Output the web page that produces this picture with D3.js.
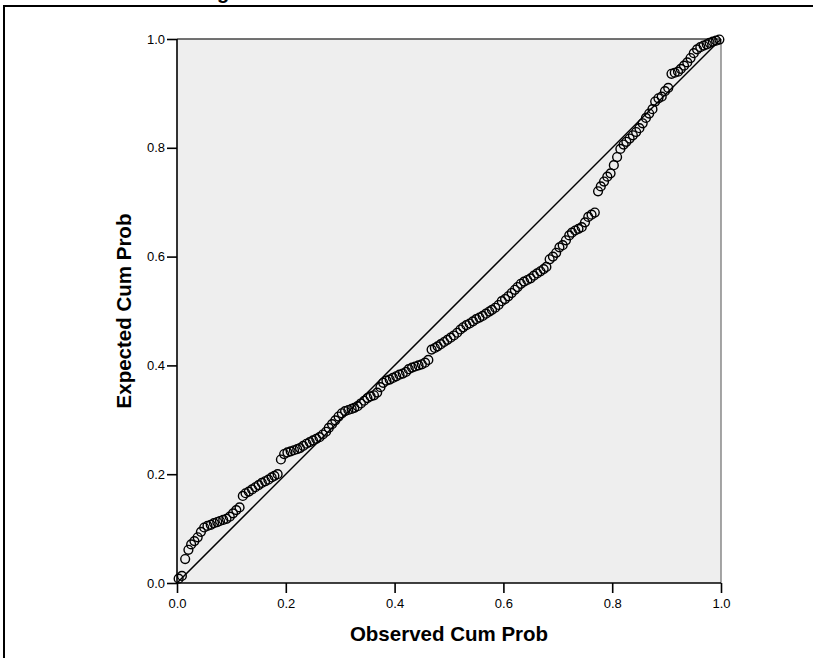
<!DOCTYPE html>
<html>
<head>
<meta charset="utf-8">
<script src="https://cdn.jsdelivr.net/npm/d3@7"></script>
<style>
  body { margin: 0; background: #fff; }
  svg { display: block; }
  text { font-family: Arial, "Liberation Sans", sans-serif; fill: #000; }
</style>
</head>
<body>
<div id="chart"></div>
<script>
// Normal P-P plot: observed vs expected cumulative probability
const observed = [
  0.003,0.009,0.015,0.021,0.026,0.032,0.038,0.044,0.050,0.056,
  0.062,0.068,0.074,0.079,0.085,0.091,0.097,0.103,0.109,0.115,
  0.121,0.126,0.132,0.138,0.144,0.150,0.156,0.162,0.168,0.174,
  0.179,0.185,0.191,0.197,0.203,0.209,0.215,0.221,0.226,0.232,
  0.238,0.244,0.250,0.256,0.262,0.268,0.274,0.279,0.285,0.291,
  0.297,0.303,0.309,0.315,0.321,0.326,0.332,0.338,0.344,0.350,
  0.356,0.362,0.368,0.374,0.379,0.385,0.391,0.397,0.403,0.409,
  0.415,0.421,0.426,0.432,0.438,0.444,0.450,0.456,0.462,0.468,
  0.474,0.479,0.485,0.491,0.497,0.503,0.509,0.515,0.521,0.526,
  0.532,0.538,0.544,0.550,0.556,0.562,0.568,0.574,0.579,0.585,
  0.591,0.597,0.603,0.609,0.615,0.621,0.626,0.632,0.638,0.644,
  0.650,0.656,0.662,0.668,0.674,0.679,0.685,0.691,0.697,0.703,
  0.709,0.715,0.721,0.726,0.732,0.738,0.744,0.750,0.756,0.762,
  0.768,0.774,0.779,0.785,0.791,0.797,0.803,0.809,0.815,0.821,
  0.826,0.832,0.838,0.844,0.850,0.856,0.862,0.868,0.874,0.879,
  0.885,0.891,0.897,0.903,0.909,0.915,0.921,0.926,0.932,0.938,
  0.944,0.950,0.956,0.962,0.968,0.974,0.979,0.985,0.991,0.997
];
const expected = [
  0.008,0.013,0.044,0.061,0.071,0.077,0.084,0.094,0.102,0.105,
  0.107,0.110,0.112,0.114,0.116,0.118,0.122,0.128,0.134,0.139,
  0.160,0.165,0.168,0.172,0.176,0.180,0.184,0.187,0.190,0.194,
  0.197,0.200,0.227,0.237,0.240,0.242,0.244,0.246,0.248,0.252,
  0.256,0.259,0.262,0.265,0.268,0.273,0.278,0.285,0.292,0.299,
  0.306,0.312,0.316,0.318,0.320,0.322,0.325,0.330,0.335,0.340,
  0.343,0.345,0.350,0.360,0.368,0.372,0.374,0.377,0.380,0.383,
  0.385,0.388,0.393,0.396,0.398,0.400,0.402,0.405,0.410,0.429,
  0.432,0.435,0.439,0.443,0.447,0.451,0.455,0.460,0.466,0.470,
  0.474,0.477,0.481,0.485,0.488,0.491,0.495,0.499,0.502,0.506,
  0.511,0.518,0.522,0.527,0.533,0.539,0.544,0.550,0.554,0.557,
  0.560,0.565,0.569,0.573,0.577,0.581,0.595,0.600,0.607,0.617,
  0.621,0.630,0.639,0.644,0.648,0.651,0.654,0.663,0.673,0.677,
  0.681,0.720,0.729,0.738,0.747,0.753,0.768,0.783,0.798,0.806,
  0.811,0.817,0.823,0.829,0.836,0.845,0.855,0.863,0.871,0.885,
  0.891,0.894,0.904,0.910,0.936,0.938,0.940,0.945,0.951,0.957,
  0.965,0.974,0.981,0.985,0.988,0.990,0.993,0.995,0.997,0.999
];
const tickValues = [0, 0.2, 0.4, 0.6, 0.8, 1.0];
const titleText = "Normal P-P Plot of Regression Standardized Residual";
const xLabel = "Observed Cum Prob";
const yLabel = "Expected Cum Prob";

const W = 813, H = 658;
const plot = { left: 177, top: 39, size: 544 };

const svg = d3.select("#chart").append("svg")
  .attr("width", W).attr("height", H);

// outer frame (runs off the right/bottom edge in the original)
svg.append("rect")
  .attr("x", 4).attr("y", 6).attr("width", 840).attr("height", 700)
  .attr("fill", "none").attr("stroke", "#000").attr("stroke-width", 2);

// title sits above the cropped top edge: only the descender of "g" shows
const title = svg.append("text")
  .attr("y", -0.6).attr("font-size", 20).attr("font-weight", "bold")
  .text(titleText);
const gIdx = titleText.indexOf("g");
const gPos = title.node().getStartPositionOfChar(gIdx).x;
title.attr("x", 217 - gPos);

const x = d3.scaleLinear().domain([0, 1]).range([plot.left, plot.left + plot.size]);
const y = d3.scaleLinear().domain([0, 1]).range([plot.top + plot.size, plot.top]);

// plot background
svg.append("rect")
  .attr("x", x(0)).attr("y", y(1))
  .attr("width", x(1) - x(0)).attr("height", y(0) - y(1))
  .attr("fill", "#eeeeee");

// top and right border
svg.append("line").attr("x1", x(0)).attr("x2", x(1)).attr("y1", y(1)).attr("y2", y(1))
  .attr("stroke", "#444").attr("stroke-width", 1.5);
svg.append("line").attr("x1", x(1)).attr("x2", x(1)).attr("y1", y(1)).attr("y2", y(0))
  .attr("stroke", "#888").attr("stroke-width", 1.5);

// axes
const xAxis = svg.append("g")
  .attr("transform", `translate(0,${y(0)})`)
  .call(d3.axisBottom(x).tickValues(tickValues).tickFormat(d3.format(".1f")).tickSize(10).tickPadding(6));
const yAxis = svg.append("g")
  .attr("transform", `translate(${x(0)},0)`)
  .call(d3.axisLeft(y).tickValues(tickValues).tickFormat(d3.format(".1f")).tickSize(10).tickPadding(2));

[xAxis, yAxis].forEach(ax => {
  ax.select(".domain").attr("stroke", "#000").attr("stroke-width", 1.6);
  ax.selectAll(".tick line").attr("stroke", "#000").attr("stroke-width", 1.6);
  ax.selectAll(".tick text").attr("font-size", 13).attr("fill", "#111")
    .attr("font-family", "Arial, 'Liberation Sans', sans-serif");
});
xAxis.select(".domain").attr("d", `M${x(0)},0H${x(1)}`);
yAxis.select(".domain").attr("d", `M0,${y(0)}V${y(1)}`);

// reference diagonal
svg.append("line")
  .attr("x1", x(0)).attr("y1", y(0)).attr("x2", x(1)).attr("y2", y(1))
  .attr("stroke", "#000").attr("stroke-width", 1.5);

// points
svg.append("g").selectAll("circle")
  .data(observed.map((o, i) => [o, expected[i]]))
  .join("circle")
  .attr("cx", d => x(d[0]))
  .attr("cy", d => y(d[1]))
  .attr("r", 4.4)
  .attr("fill", "none")
  .attr("stroke", "#000")
  .attr("stroke-width", 1.4);

// axis titles
svg.append("text")
  .attr("x", (x(0) + x(1)) / 2).attr("y", 641)
  .attr("text-anchor", "middle").attr("font-size", 20.5).attr("font-weight", "bold")
  .text(xLabel);
svg.append("text")
  .attr("transform", `translate(131,${(y(0) + y(1)) / 2}) rotate(-90)`)
  .attr("text-anchor", "middle").attr("font-size", 20.5).attr("font-weight", "bold")
  .text(yLabel);
</script>
</body>
</html>
